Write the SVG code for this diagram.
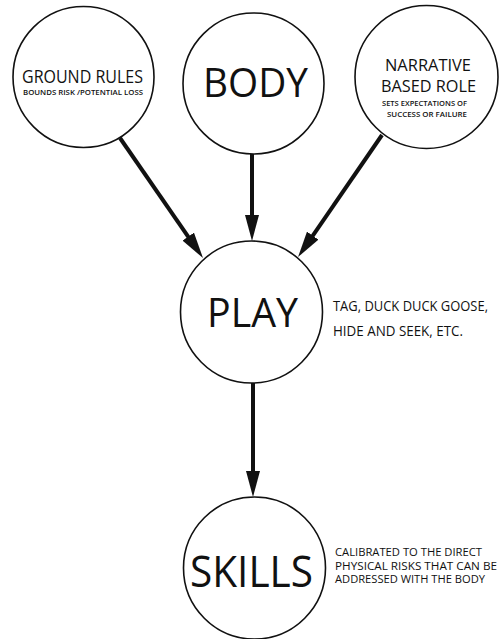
<svg xmlns="http://www.w3.org/2000/svg" width="500" height="639" viewBox="0 0 500 639">
<defs>
<marker id="ah" viewBox="0 0 26 14" refX="16" refY="7" markerWidth="26" markerHeight="14" markerUnits="userSpaceOnUse" orient="auto">
<path d="M0,0 L26,7 L0,14 z" fill="#111"/>
</marker>
<style>
.n{fill:#fff;stroke:#111;stroke-width:1.6}
.t{font-family:"Open Sans","Noto Sans",sans-serif;fill:#111;text-anchor:start}
.s{font-weight:600}
.c{stroke:#111;stroke-width:4;fill:none;marker-end:url(#ah)}
</style>
</defs>
<rect width="500" height="639" fill="#fff"/>
<g id="connectors">
<line class="c" x1="120" y1="138" x2="197.3" y2="249.8"/>
<line class="c" x1="252" y1="154" x2="252" y2="231"/>
<line class="c" x1="382" y1="135" x2="303.7" y2="248.8"/>
<line class="c" x1="253" y1="383" x2="253" y2="487"/>
</g>
<g id="ground-rules">
<circle class="n" cx="83.5" cy="77" r="70.5"/>
<text class="t" x="22" y="83" font-size="18" textLength="121" lengthAdjust="spacingAndGlyphs">GROUND RULES</text>
<text class="t s" x="23" y="95" font-size="7" textLength="120" lengthAdjust="spacingAndGlyphs">BOUNDS RISK /POTENTIAL LOSS</text>
</g>
<g id="body">
<circle class="n" cx="253.5" cy="83.5" r="70.5"/>
<text class="t" x="203" y="97" font-size="40" textLength="105" lengthAdjust="spacingAndGlyphs">BODY</text>
</g>
<g id="narrative">
<circle class="n" cx="426.5" cy="77" r="71.5"/>
<text class="t" x="385" y="71" font-size="17" textLength="86" lengthAdjust="spacingAndGlyphs">NARRATIVE</text>
<text class="t" x="381" y="92" font-size="17" textLength="95" lengthAdjust="spacingAndGlyphs">BASED ROLE</text>
<text class="t s" x="382" y="106" font-size="7" textLength="85" lengthAdjust="spacingAndGlyphs">SETS EXPECTATIONS OF</text>
<text class="t s" x="387" y="117" font-size="7" textLength="80" lengthAdjust="spacingAndGlyphs">SUCCESS OR FAILURE</text>
</g>
<g id="play">
<circle class="n" cx="251.5" cy="312" r="71"/>
<text class="t" x="207" y="327" font-size="40" textLength="91" lengthAdjust="spacingAndGlyphs">PLAY</text>
<text class="t" x="333" y="311" font-size="14" textLength="155" lengthAdjust="spacingAndGlyphs">TAG, DUCK DUCK GOOSE,</text>
<text class="t" x="333" y="336" font-size="14" textLength="130" lengthAdjust="spacingAndGlyphs">HIDE AND SEEK, ETC.</text>
</g>
<g id="skills">
<circle class="n" cx="254.5" cy="568" r="71"/>
<text class="t" x="190" y="587" font-size="44" textLength="123" lengthAdjust="spacingAndGlyphs">SKILLS</text>
<text class="t" x="335" y="556" font-size="10" textLength="147" lengthAdjust="spacingAndGlyphs">CALIBRATED TO THE DIRECT</text>
<text class="t" x="335" y="569.5" font-size="10" textLength="162" lengthAdjust="spacingAndGlyphs">PHYSICAL RISKS THAT CAN BE</text>
<text class="t" x="335" y="583" font-size="10" textLength="150" lengthAdjust="spacingAndGlyphs">ADDRESSED WITH THE BODY</text>
</g>
</svg>
